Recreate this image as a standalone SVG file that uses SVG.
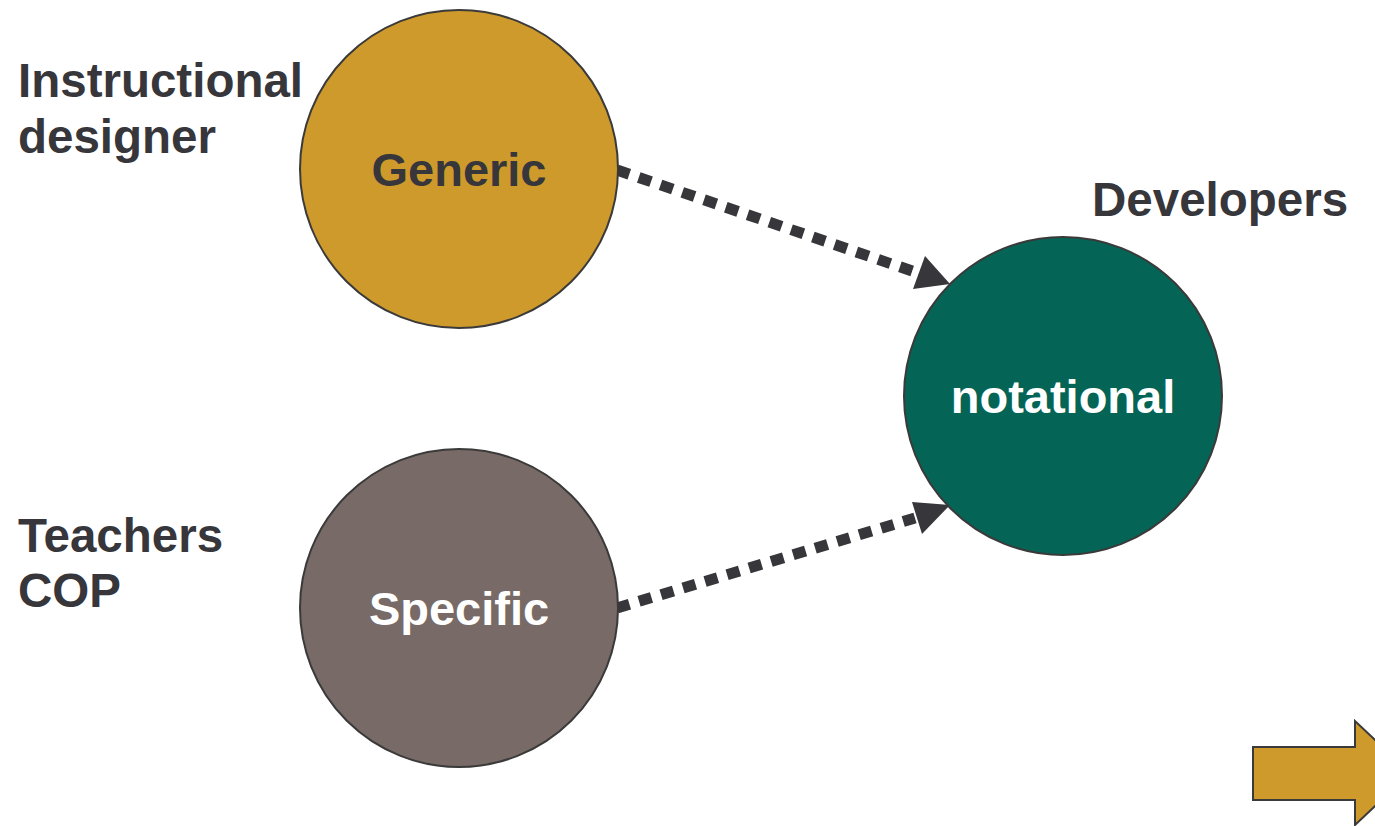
<svg xmlns="http://www.w3.org/2000/svg" width="1375" height="826" viewBox="0 0 1375 826">
  <style>
    .lbl { font-family: "Liberation Sans", Arial, sans-serif; font-weight: bold; font-size: 47.5px; fill: #36363b; }
    .inner { font-family: "Liberation Sans", Arial, sans-serif; font-weight: bold; font-size: 47px; text-anchor: middle; }
    .node { stroke: #3a3a3a; stroke-width: 2; }
    .link { fill: none; stroke: #36363b; stroke-width: 11; stroke-dasharray: 13 10; }
    .head { fill: #36363b; }
  </style>
  <rect width="1375" height="826" fill="#ffffff"/>

  <!-- dotted connectors into the notational node -->
  <g id="connectors">
    <path class="link" d="M617,170 L915,272"/>
    <path class="head" d="M950,284 L913,289 L925,256 z"/>
    <path class="link" d="M617,608 L915,518"/>
    <path class="head" d="M950,505 L912,502 L922,534 z"/>
  </g>

  <g id="generic">
    <circle class="node" cx="459" cy="169" r="159" fill="#cf9a2c"/>
    <text class="inner" x="459" y="186" fill="#36363b">Generic</text>
  </g>

  <g id="specific">
    <circle class="node" cx="459" cy="608" r="159" fill="#786a66"/>
    <text class="inner" x="459" y="625" fill="#ffffff">Specific</text>
  </g>

  <g id="notational">
    <circle class="node" cx="1063" cy="396" r="159" fill="#046556"/>
    <text class="inner" x="1063" y="413" fill="#ffffff">notational</text>
  </g>

  <g id="label-designer">
    <text class="lbl" x="18" y="97">Instructional</text>
    <text class="lbl" x="18" y="153">designer</text>
  </g>

  <g id="label-teachers">
    <text class="lbl" x="18" y="552">Teachers</text>
    <text class="lbl" x="18" y="607">COP</text>
  </g>

  <g id="label-developers">
    <text class="lbl" x="1092" y="216">Developers</text>
  </g>

  <!-- block arrow running off the right edge -->
  <g id="next-arrow">
    <path d="M1253,747 L1355,747 L1355,721 L1410,773 L1355,825 L1355,800 L1253,800 z" fill="#cf9a2c" stroke="#3a3a3a" stroke-width="2"/>
  </g>
</svg>
